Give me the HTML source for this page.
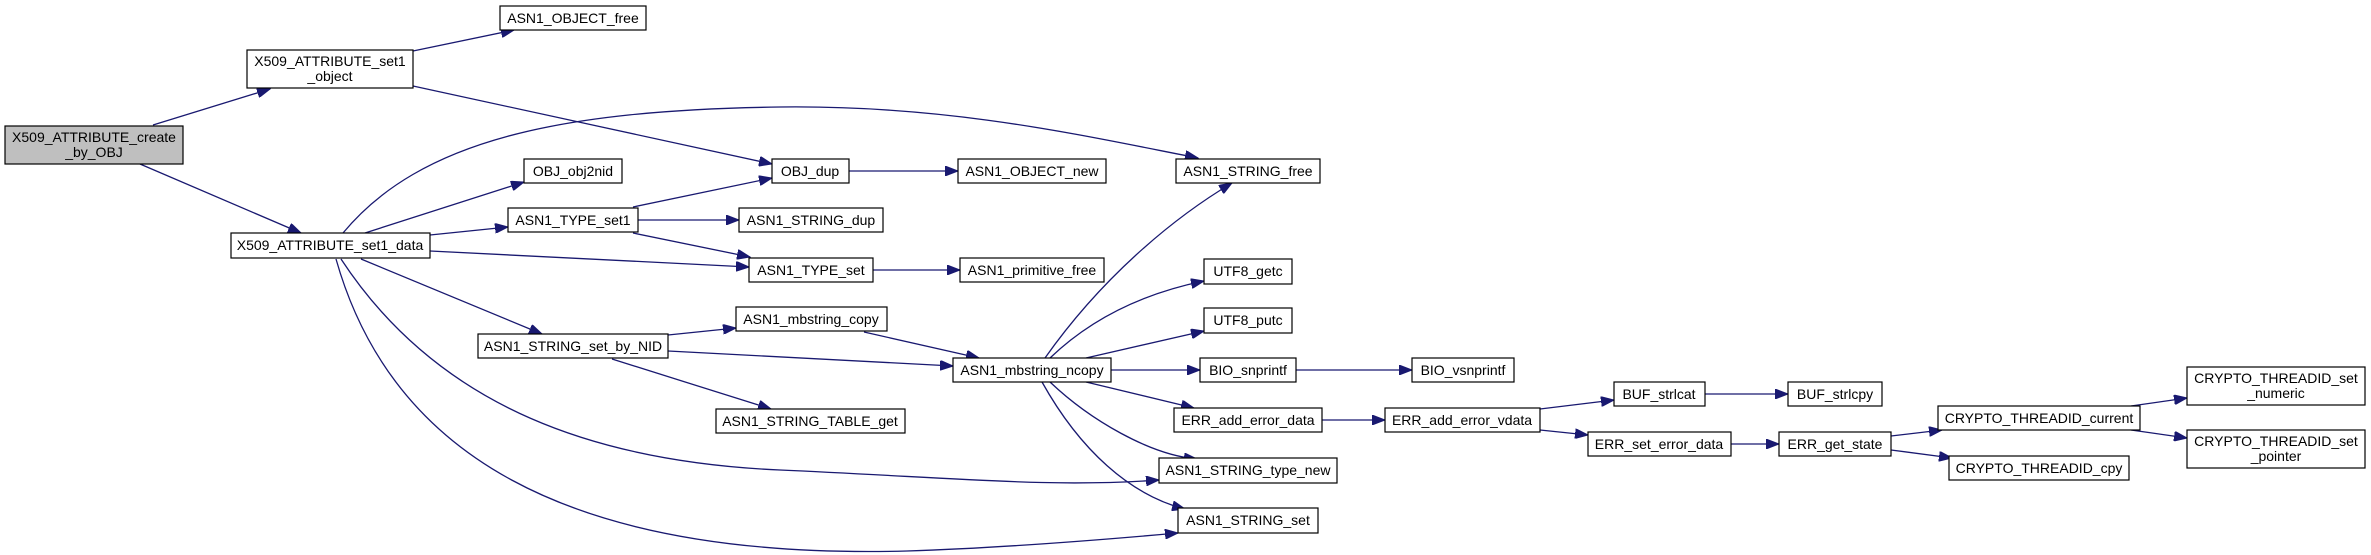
<!DOCTYPE html>
<html><head><meta charset="utf-8"><style>
html,body{margin:0;padding:0;background:#fff;}
svg{display:block;}
text{font-family:"Liberation Sans",sans-serif;font-size:14px;fill:#000;}
</style></head><body>
<svg width="2371" height="555" viewBox="0 0 2371 555" xmlns="http://www.w3.org/2000/svg">
<defs>
<marker id="a" markerUnits="userSpaceOnUse" markerWidth="14" markerHeight="10" refX="13" refY="5" orient="auto">
<path d="M0,0 L13,5 L0,10 Z" fill="#191970" stroke="#191970"/>
</marker>
</defs>
<g fill="none" stroke="#191970" stroke-width="1.3" marker-end="url(#a)">
<path d="M153,125 L270,89"/>
<path d="M140,164 L301,233"/>
<path d="M413,51 L514,30"/>
<path d="M413,86 L772,164"/>
<path d="M343,233 C420,140 560,110 780,107 C950,105 1080,135 1198,158"/>
<path d="M365,233 L524,182"/>
<path d="M430,235 L508,227"/>
<path d="M430,251 L749,267"/>
<path d="M361,259 L542,334"/>
<path d="M341,259 C440,410 600,462 780,470 S1050,488 1159,480"/>
<path d="M336,259 C390,450 560,560 907,551 C1000,548 1100,540 1178,533"/>
<path d="M633,207 L772,178"/>
<path d="M638,220 L739,220"/>
<path d="M633,233 L750,257"/>
<path d="M849,171 L958,171"/>
<path d="M873,270 L960,270"/>
<path d="M668,335 L736,328"/>
<path d="M668,351 L953,366"/>
<path d="M612,359 L771,409"/>
<path d="M864,332 L979,358"/>
<path d="M1045,358 C1100,280 1170,220 1232,183"/>
<path d="M1050,358 C1100,310 1160,290 1204,281"/>
<path d="M1086,358 L1204,331"/>
<path d="M1111,370 L1200,370"/>
<path d="M1296,370 L1412,370"/>
<path d="M1086,382 L1194,408"/>
<path d="M1050,382 C1090,420 1150,455 1197,459"/>
<path d="M1042,382 C1080,450 1130,495 1185,509"/>
<path d="M1322,420 L1385,420"/>
<path d="M1540,409 L1614,400"/>
<path d="M1540,430 L1588,435"/>
<path d="M1705,394 L1788,394"/>
<path d="M1731,444 L1779,444"/>
<path d="M1891,436 L1942,430"/>
<path d="M1891,450 L1952,458"/>
<path d="M2131,406 L2187,398"/>
<path d="M2131,430 L2187,438"/>
</g>
<g stroke="#000" stroke-width="1.2" fill="#fff">
<rect x="5" y="126" width="178" height="38" fill="#bfbfbf"/>
<rect x="247" y="50" width="166" height="38"/>
<rect x="500" y="6" width="146" height="24"/>
<rect x="524" y="159" width="98" height="24"/>
<rect x="508" y="208" width="130" height="24"/>
<rect x="231" y="233" width="199" height="25"/>
<rect x="478" y="334" width="190" height="24"/>
<rect x="772" y="159" width="77" height="24"/>
<rect x="739" y="208" width="144" height="24"/>
<rect x="749" y="258" width="124" height="24"/>
<rect x="736" y="307" width="151" height="24"/>
<rect x="716" y="409" width="189" height="24"/>
<rect x="958" y="159" width="148" height="24"/>
<rect x="1176" y="159" width="144" height="24"/>
<rect x="960" y="258" width="144" height="24"/>
<rect x="1204" y="259" width="88" height="25"/>
<rect x="1204" y="308" width="88" height="25"/>
<rect x="953" y="358" width="158" height="24"/>
<rect x="1200" y="358" width="96" height="24"/>
<rect x="1412" y="358" width="102" height="24"/>
<rect x="1174" y="408" width="148" height="24"/>
<rect x="1385" y="408" width="155" height="24"/>
<rect x="1159" y="458" width="178" height="25"/>
<rect x="1178" y="508" width="140" height="25"/>
<rect x="1614" y="382" width="91" height="24"/>
<rect x="1788" y="382" width="94" height="24"/>
<rect x="1588" y="432" width="143" height="24"/>
<rect x="1779" y="432" width="112" height="24"/>
<rect x="1938" y="406" width="202" height="24"/>
<rect x="1949" y="456" width="180" height="24"/>
<rect x="2187" y="367" width="178" height="38"/>
<rect x="2187" y="430" width="178" height="38"/>
</g>
<g text-anchor="middle">
<text x="94" y="142">X509_ATTRIBUTE_create</text>
<text x="94" y="157">_by_OBJ</text>
<text x="330" y="66">X509_ATTRIBUTE_set1</text>
<text x="330" y="81">_object</text>
<text x="573" y="23">ASN1_OBJECT_free</text>
<text x="573" y="176">OBJ_obj2nid</text>
<text x="573" y="225">ASN1_TYPE_set1</text>
<text x="330" y="250">X509_ATTRIBUTE_set1_data</text>
<text x="573" y="351">ASN1_STRING_set_by_NID</text>
<text x="810" y="176">OBJ_dup</text>
<text x="811" y="225">ASN1_STRING_dup</text>
<text x="811" y="275">ASN1_TYPE_set</text>
<text x="811" y="324">ASN1_mbstring_copy</text>
<text x="810" y="426">ASN1_STRING_TABLE_get</text>
<text x="1032" y="176">ASN1_OBJECT_new</text>
<text x="1248" y="176">ASN1_STRING_free</text>
<text x="1032" y="275">ASN1_primitive_free</text>
<text x="1248" y="276">UTF8_getc</text>
<text x="1248" y="325">UTF8_putc</text>
<text x="1032" y="375">ASN1_mbstring_ncopy</text>
<text x="1248" y="375">BIO_snprintf</text>
<text x="1463" y="375">BIO_vsnprintf</text>
<text x="1248" y="425">ERR_add_error_data</text>
<text x="1462" y="425">ERR_add_error_vdata</text>
<text x="1248" y="475">ASN1_STRING_type_new</text>
<text x="1248" y="525">ASN1_STRING_set</text>
<text x="1659" y="399">BUF_strlcat</text>
<text x="1835" y="399">BUF_strlcpy</text>
<text x="1659" y="449">ERR_set_error_data</text>
<text x="1835" y="449">ERR_get_state</text>
<text x="2039" y="423">CRYPTO_THREADID_current</text>
<text x="2039" y="473">CRYPTO_THREADID_cpy</text>
<text x="2276" y="383">CRYPTO_THREADID_set</text>
<text x="2276" y="398">_numeric</text>
<text x="2276" y="446">CRYPTO_THREADID_set</text>
<text x="2276" y="461">_pointer</text>
</g>
</svg>
</body></html>
